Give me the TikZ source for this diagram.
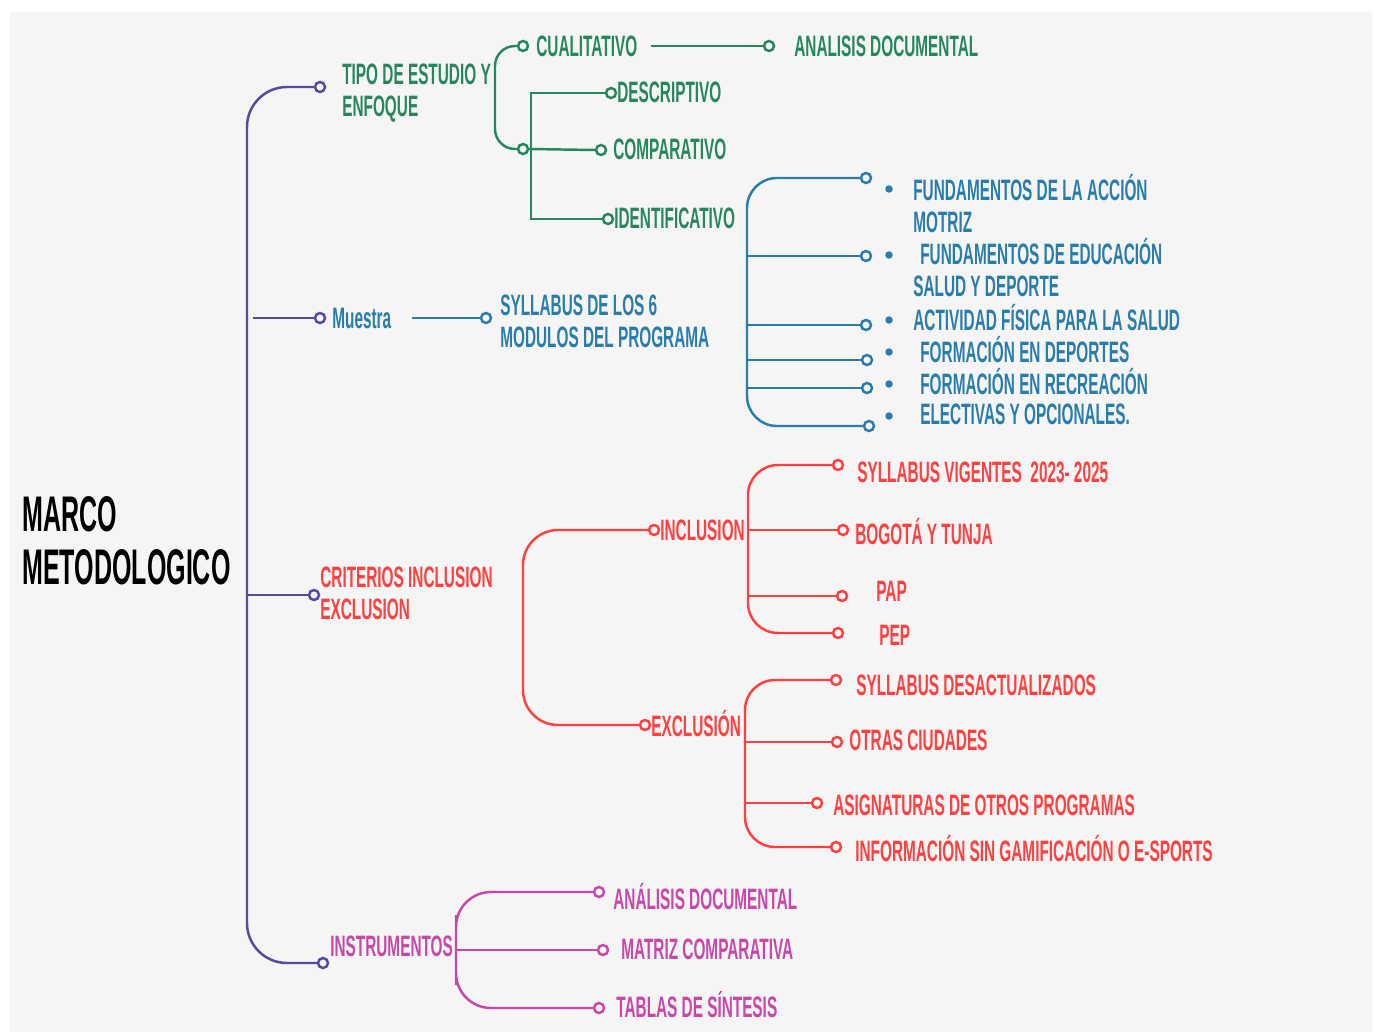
\documentclass[tikz,border=0pt]{standalone}
\usepackage{fontspec}
\setmainfont{Liberation Sans}[FakeStretch=0.52]
\newfontfamily\titulofont{Liberation Sans}[FakeStretch=0.5]
\usepackage{tikz}

\definecolor{fondo}{RGB}{245,245,245}
\definecolor{morado}{RGB}{84,74,158}
\definecolor{verde}{RGB}{38,135,95}
\definecolor{azul}{RGB}{40,125,170}
\definecolor{rojo}{RGB}{255,64,64}
\definecolor{rosa}{RGB}{200,72,170}

\begin{document}
\begin{tikzpicture}[x=0.02cm, y=-0.02cm,
	rama/.style={line width=1.4pt},
	punto/.style={circle, draw=#1, line width=1.4pt, fill=fondo, inner sep=0pt, minimum size=0.2cm},
	vineta/.style={circle, fill=azul, inner sep=0pt, minimum size=0.15cm},
	txt/.style={anchor=west, inner sep=0pt, align=left, font=\bfseries\fontsize{16.8}{18.2}\selectfont},
	titulo/.style={anchor=west, inner sep=0pt, align=left, font=\titulofont\bfseries\fontsize{28.5}{30}\selectfont}]
	%\draw[help lines] (0,0) grid[step=100] (1373,1034);
	\fill[white] (0,0) rectangle (1373,1034);
	\fill[fondo] (10,12) rectangle (1372,1032);

	% tronco
	\node[titulo] (marco) at (22,541) {MARCO\\METODOLOGICO};
	\node[punto=morado] (p1) at (320,87) {};
	\node[punto=morado] (p2) at (320,318) {};
	\node[punto=morado] (p3) at (314,595) {};
	\node[punto=morado] (p4) at (323,963) {};
	\coordinate (tronco) at (247,595);
	\coordinate (m0) at (253,318);
	\draw[rama, morado, rounded corners=0.8cm] (p1.west) -| (tronco) |- (p4.west);
	\draw[rama, morado] (m0) -- (p2.west);
	\draw[rama, morado] (tronco) -- (p3.west);
	\node[txt, verde] (tipo) at (342,93) {TIPO DE ESTUDIO Y\\ENFOQUE};
	\node[txt, azul] (muestra) at (332,318) {Muestra};
	\node[txt, rojo] (criterios) at (320,593) {CRITERIOS INCLUSION\\EXCLUSION};
	\node[txt, rosa] (instr) at (330,946) {INSTRUMENTOS};

	% tipo de estudio
	\node[punto=verde] (g1) at (523,46) {};
	\node[punto=verde] (g2) at (523,149) {};
	\coordinate (gbar) at (495,100);
	\draw[rama, verde, rounded corners=0.4cm] (g1.west) -| (gbar) |- (g2.west);
	\node[txt, verde] (cual) at (536,46) {CUALITATIVO};
	\node[punto=verde] (g3) at (769,46) {};
	\draw[rama, verde, shorten <=0.26cm] (cual.east) -- (g3.west);
	\node[txt, verde] (analisis) at (794,46) {ANALISIS DOCUMENTAL};
	\node[punto=verde] (g4) at (601,150) {};
	\draw[rama, verde] (g2.east) -- (g4.west);
	\node[txt, verde] (comp) at (613,149) {COMPARATIVO};
	\node[punto=verde] (g5) at (611,93) {};
	\node[punto=verde] (g6) at (608,219) {};
	\coordinate (gbar2) at (531,150);
	\draw[rama, verde] (g5.west) -| (gbar2) |- (g6.west);
	\node[txt, verde] (desc) at (617,92) {DESCRIPTIVO};
	\node[txt, verde] (ident) at (614,218) {IDENTIFICATIVO};

	% identificativo
	\node[punto=azul] (b1) at (866,178) {};
	\node[punto=azul] (b2) at (866,256) {};
	\node[punto=azul] (b3) at (866,325) {};
	\node[punto=azul] (b4) at (867,360) {};
	\node[punto=azul] (b5) at (867,388) {};
	\node[punto=azul] (b6) at (869,426) {};
	\coordinate (bbar) at (747,300);
	\draw[rama, azul, rounded corners=0.6cm] (b1.west) -| (bbar) |- (b6.west);
	\foreach \b in {b2,b3,b4,b5}
		\draw[rama, azul] (bbar |- \b) -- (\b.west);
	\node[vineta] (v1) at (889,189) {};
	\node[vineta] (v2) at (889,255) {};
	\node[vineta] (v3) at (889,320) {};
	\node[vineta] (v4) at (889,352) {};
	\node[vineta] (v5) at (889,384) {};
	\node[vineta] (v6) at (889,416) {};
	\node[txt, azul] (f1) at (913,204) {FUNDAMENTOS DE LA ACCIÓN\\MOTRIZ};
	\node[txt, azul] (f2) at (913,268) {\hspace*{0.14cm}FUNDAMENTOS DE EDUCACIÓN\\SALUD Y DEPORTE};
	\node[txt, azul] (f3) at (913,318) {ACTIVIDAD FÍSICA PARA LA SALUD};
	\node[txt, azul] (f4) at (920,350) {FORMACIÓN EN DEPORTES};
	\node[txt, azul] (f5) at (920,382) {FORMACIÓN EN RECREACIÓN};
	\node[txt, azul] (f6) at (920,414) {ELECTIVAS Y OPCIONALES.};

	% muestra
	\node[punto=azul] (m1) at (486,318) {};
	\draw[rama, azul, shorten <=0.4cm] (muestra.east) -- (m1.west);
	\node[txt, azul] (syl) at (500,321) {SYLLABUS DE LOS 6\\MODULOS DEL PROGRAMA};

	% criterios
	\node[punto=rojo] (r1) at (654,530) {};
	\node[punto=rojo] (r2) at (645,725) {};
	\coordinate (rbar) at (523,630);
	\draw[rama, rojo, rounded corners=0.7cm] (r1.west) -| (rbar) |- (r2.west);
	\node[txt, rojo] (incl) at (660,530) {INCLUSION};
	\node[txt, rojo] (excl) at (651,724) {EXCLUSIÓN};

	\node[punto=rojo] (i1) at (838,465) {};
	\node[punto=rojo] (i2) at (843,530) {};
	\node[punto=rojo] (i3) at (842,596) {};
	\node[punto=rojo] (i4) at (838,633) {};
	\coordinate (ibar) at (748,550);
	\draw[rama, rojo, rounded corners=0.6cm] (i1.west) -| (ibar) |- (i4.west);
	\draw[rama, rojo] (ibar |- i2) -- (i2.west);
	\draw[rama, rojo] (ibar |- i3) -- (i3.west);
	\node[txt, rojo] (vig) at (857,472) {SYLLABUS VIGENTES\ \ 2023- 2025};
	\node[txt, rojo] (bog) at (855,532) {BOGOTÁ Y TUNJA};
	\node[txt, rojo] (pap) at (876,591) {PAP};
	\node[txt, rojo] (pep) at (879,635) {PEP};

	\node[punto=rojo] (e1) at (836,680) {};
	\node[punto=rojo] (e2) at (837,742) {};
	\node[punto=rojo] (e3) at (817,803) {};
	\node[punto=rojo] (e4) at (836,847) {};
	\coordinate (ebar) at (745,760);
	\draw[rama, rojo, rounded corners=0.6cm] (e1.west) -| (ebar) |- (e4.west);
	\draw[rama, rojo] (ebar |- e2) -- (e2.west);
	\draw[rama, rojo] (ebar |- e3) -- (e3.west);
	\node[txt, rojo] (desact) at (856,685) {SYLLABUS DESACTUALIZADOS};
	\node[txt, rojo] (otras) at (849,740) {OTRAS CIUDADES};
	\node[txt, rojo] (asig) at (833,805) {ASIGNATURAS DE OTROS PROGRAMAS};
	\node[txt, rojo] (info) at (855,849) {INFORMACIÓN SIN GAMIFICACIÓN O E-SPORTS};

	% instrumentos
	\node[punto=rosa] (n1) at (599,892) {};
	\node[punto=rosa] (n2) at (603,950) {};
	\node[punto=rosa] (n3) at (599,1008) {};
	\coordinate (nbar) at (456,950);
	\draw[rama, rosa, rounded corners=0.7cm] (n1.west) -| (nbar) |- (n3.west);
	\draw[rama, rosa] (nbar) -- (n2.west);
	\node[txt, rosa] (doc) at (613,897) {ANÁLISIS DOCUMENTAL};
	\node[txt, rosa] (matriz) at (621,949) {MATRIZ COMPARATIVA};
	\node[txt, rosa] (tablas) at (616,1005) {TABLAS DE SÍNTESIS};
\end{tikzpicture}
\end{document}
